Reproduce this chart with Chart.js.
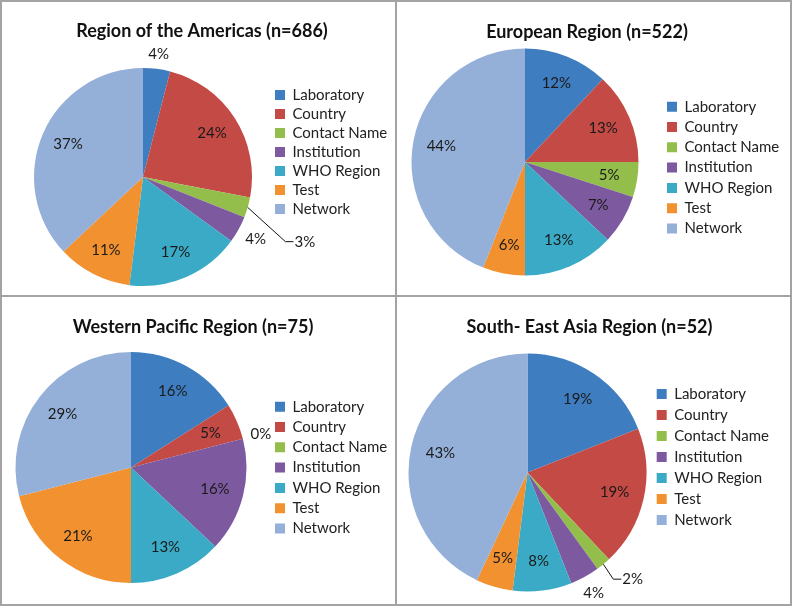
<!DOCTYPE html>
<html>
<head>
<meta charset="utf-8">
<script src="https://cdn.jsdelivr.net/npm/chart.js@4.4.1/dist/chart.umd.min.js"></script>
<style>
  body { margin: 0; background: #fff; width: 793px; height: 608px; overflow: hidden; position: relative; }
  .frame { position: absolute; left: 0; top: 0; width: 788px; height: 602px; border: 2px solid #a3a3a3; }
  .vline { position: absolute; left: 395px; top: 0; width: 2px; height: 606px; background: #a3a3a3; }
  .hline { position: absolute; left: 0; top: 295px; width: 792px; height: 2px; background: #a3a3a3; }
  .panel { position: absolute; }
</style>
</head>
<body>
<div class="frame"></div>
<div class="vline"></div>
<div class="hline"></div>
<div class="panel" style="left:2px;top:2px;width:393px;height:292px"><canvas id="americas"></canvas></div>
<div class="panel" style="left:387px;top:2px;width:402px;height:292px"><canvas id="europe"></canvas></div>
<div class="panel" style="left:-8px;top:297px;width:403px;height:307px"><canvas id="wpacific"></canvas></div>
<div class="panel" style="left:397px;top:297px;width:392px;height:307px"><canvas id="seasia"></canvas></div>

<script>
const categories = ["Laboratory", "Country", "Contact Name", "Institution", "WHO Region", "Test", "Network"];
const americas = [4, 24, 3, 4, 17, 11, 37];
const european = [12, 13, 5, 7, 13, 6, 44];
const westernPacific = [16, 5, 0, 16, 13, 21, 29];
const southEastAsia = [19, 19, 2, 4, 8, 5, 43];

const sliceColors = ["#3f7dc1", "#c34a45", "#93be4b", "#7d5aa0", "#3baac6", "#f1912f", "#94b0d9"];

// percentage labels: inside for big slices, outside for small ones,
// with a leader line for the tiny ones (like the Excel original)
const pctLabels = {
  id: "pctLabels",
  afterDatasetsDraw(chart, args, opts) {
    const ctx = chart.ctx;
    const values = chart.data.datasets[0].data;
    ctx.save();
    ctx.font = "15px Lato";
    ctx.fillStyle = "#1a1a1a";
    ctx.strokeStyle = "#111";
    ctx.lineWidth = 1;
    ctx.textBaseline = "middle";
    chart.getDatasetMeta(0).data.forEach((arc, i) => {
      const v = values[i];
      const text = v + "%";
      const mid = (arc.startAngle + arc.endAngle) / 2;
      const r = arc.outerRadius;
      const cos = Math.cos(mid), sin = Math.sin(mid);
      if (v >= 5) {
        ctx.textAlign = "center";
        ctx.fillText(text, arc.x + cos * r * 0.75, arc.y + sin * r * 0.75);
      } else if (v > 0 && v < 4) {
        const sx = arc.x + cos * r, sy = arc.y + sin * r;
        const a2 = mid + opts.leaderTurn * Math.PI / 180;
        const ex = sx + Math.cos(a2) * opts.leaderLen;
        const ey = sy + Math.sin(a2) * opts.leaderLen;
        ctx.beginPath();
        ctx.moveTo(sx, sy);
        ctx.lineTo(ex, ey);
        ctx.lineTo(ex + 8, ey);
        ctx.stroke();
        ctx.textAlign = "left";
        ctx.fillText(text, ex + 9, ey);
      } else {
        // text box sits just outside the rim
        const d = r + 6 + 11 * Math.abs(cos) + 8 * Math.abs(sin);
        ctx.textAlign = "center";
        ctx.fillText(text, arc.x + cos * d, arc.y + sin * d);
      }
    });
    ctx.restore();
  }
};

function makePie(id, title, values, lay) {
  return new Chart(id, {
    type: "pie",
    data: {
      labels: categories,
      datasets: [{
        data: values,
        backgroundColor: sliceColors,
        borderWidth: 0,
        hoverBorderWidth: 0,
        hoverOffset: 0
      }]
    },
    options: {
      responsive: true,
      maintainAspectRatio: false,
      animation: false,
      events: [],
      layout: { padding: { left: lay.pl, right: lay.pr, top: 0, bottom: lay.pb } },
      plugins: {
        title: {
          display: true,
          text: title,
          color: "#111",
          font: { family: "Lato", size: 18, weight: "bold", lineHeight: 1.2 },
          padding: { top: lay.tt, bottom: lay.tb }
        },
        legend: {
          position: "right",
          align: "start",
          maxWidth: lay.lw,
          title: { display: true, text: "", font: { size: 10, lineHeight: 1 }, padding: { top: lay.lt, bottom: 0 } },
          labels: {
            boxWidth: 10,
            boxHeight: 10,
            padding: lay.lp,
            color: "#222",
            font: { family: "Lato", size: 15 }
          }
        },
        tooltip: { enabled: false },
        pctLabels: { leaderLen: lay.leadLen || 0, leaderTurn: lay.leadTurn || 0 }
      }
    },
    plugins: [pctLabels]
  });
}

makePie("americas", "Region of the Americas (n=686)", americas,
  { pl: 13, pr: 6, pb: 8, tt: 17.9, tb: 26.5, lw: 118, lp: 4, lt: 71.5, leadLen: 51, leadTurn: 26 });
makePie("europe", "European Region (n=522)", european,
  { pl: 1.3, pr: 3.3, pb: 18.5, tt: 18.9, tb: 6.0, lw: 124, lp: 5.3, lt: 81.9 });
makePie("wpacific", "Western Pacific Region (n=75)", westernPacific,
  { pl: 0.3, pr: 1.3, pb: 21, tt: 18.9, tb: 14.5, lw: 124, lp: 5.3, lt: 86.9 });
makePie("seasia", "South- East Asia Region (n=52)", southEastAsia,
  { pl: 7.3, pr: 14.3, pb: 12.5, tt: 18.9, tb: 16, lw: 124, lp: 6, lt: 73.5, leadLen: 18, leadTurn: 6 });
</script>
</body>
</html>
